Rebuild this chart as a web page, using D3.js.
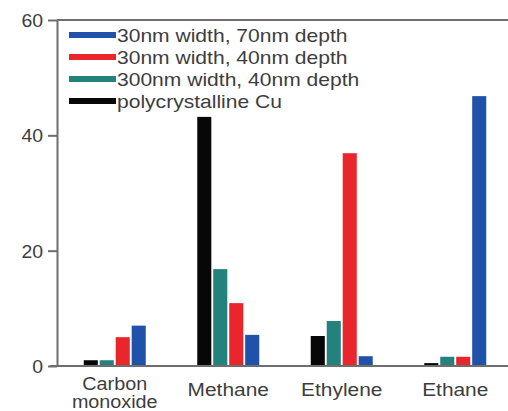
<!DOCTYPE html>
<html><head><meta charset="utf-8">
<script src="https://cdn.jsdelivr.net/npm/d3@7"></script>
<style>
html,body{margin:0;padding:0;background:#fff;}
svg{display:block;}
text{font-family:"Liberation Sans",Arial,Helvetica,sans-serif;fill:#3d3d3d;}
</style></head>
<body><svg id="c" width="508" height="411"></svg>
<script>
const categories = [["Carbon","monoxide"],["Methane"],["Ethylene"],["Ethane"]];
const categoryKeys = ["Carbon monoxide","Methane","Ethylene","Ethane"];
const seriesNames = ["polycrystalline Cu","300nm width, 40nm depth","30nm width, 40nm depth","30nm width, 70nm depth"];
const seriesColors = ["#070707","#23827c","#e8262b","#2152aa"];
const polyCu   = [1.0, 43.2, 5.2, 0.5];
const w300d40  = [1.0, 16.8, 7.8, 1.6];
const w30d40   = [5.0, 10.9, 36.9, 1.6];
const w30d70   = [7.0, 5.4, 1.7, 46.8];
const seriesValues = [polyCu, w300d40, w30d40, w30d70];
const yTicks = [0,20,40,60];
const legendOrder = [3,2,1,0];

const svg = d3.select("#c");
const x0 = d3.scaleBand().domain(categoryKeys).range([58,512]).padding(0);
const x1 = d3.scaleBand().domain(d3.range(4)).range([0,62]).paddingInner(0.12).paddingOuter(0);
const y = d3.scaleLinear().domain([0,60]).range([366,20]);

// bars
categoryKeys.forEach((c,ci)=>{
  const gx = x0(c) + x0.bandwidth()/2 - 31;
  seriesValues.forEach((vals,si)=>{
    svg.append("rect")
      .attr("x", gx + x1(si))
      .attr("width", x1.bandwidth())
      .attr("y", y(vals[ci]))
      .attr("height", y(0)-y(vals[ci]))
      .attr("fill", seriesColors[si]);
  });
});

// frame lines
const axisColor = "#6e6e6e";
svg.append("line").attr("x1",57).attr("x2",508).attr("y1",y(60)).attr("y2",y(60))
  .attr("stroke",axisColor).attr("stroke-width",2);
svg.append("line").attr("x1",50).attr("x2",508).attr("y1",y(0)).attr("y2",y(0))
  .attr("stroke",axisColor).attr("stroke-width",2);

// y axis
const ya = svg.append("g").attr("transform","translate(57,0)")
  .call(d3.axisLeft(y).tickValues(yTicks).tickSize(9).tickSizeOuter(0));
ya.select(".domain").attr("stroke",axisColor).attr("stroke-width",2);
ya.selectAll(".tick line").attr("stroke",axisColor).attr("stroke-width",2);
ya.selectAll(".tick text")
  .attr("x",0).attr("dy","0.36em")
  .attr("transform",`translate(-14,0) scale(1.08,1)`)
  .style("font-size","18px").style("font-family","Liberation Sans, Arial, sans-serif")
  .attr("fill","#3d3d3d");

// x labels
categoryKeys.forEach((c,ci)=>{
  const lines = categories[ci];
  const cx = x0(c) + x0.bandwidth()/2;
  const base = lines.length>1 ? 389.5 : 396;
  const fs = lines.length>1 ? 17.5 : 18.5;
  const t = svg.append("text")
    .attr("transform",`translate(${cx},${base}) scale(1.13,1)`)
    .attr("text-anchor","middle").style("font-size",fs+"px");
  lines.forEach((l,li)=>{
    t.append("tspan").attr("x",0).attr("dy", li===0?0:18.5).text(l);
  });
});

// legend
legendOrder.forEach((si,i)=>{
  const cy = 35 + i*22;
  svg.append("rect").attr("x",69).attr("y",cy-3).attr("width",47).attr("height",6)
    .attr("fill",seriesColors[si]);
  svg.append("text")
    .attr("transform",`translate(117,${cy+6.5}) scale(1.17,1)`)
    .style("font-size","18px").text(seriesNames[si]);
});
</script></body></html>
